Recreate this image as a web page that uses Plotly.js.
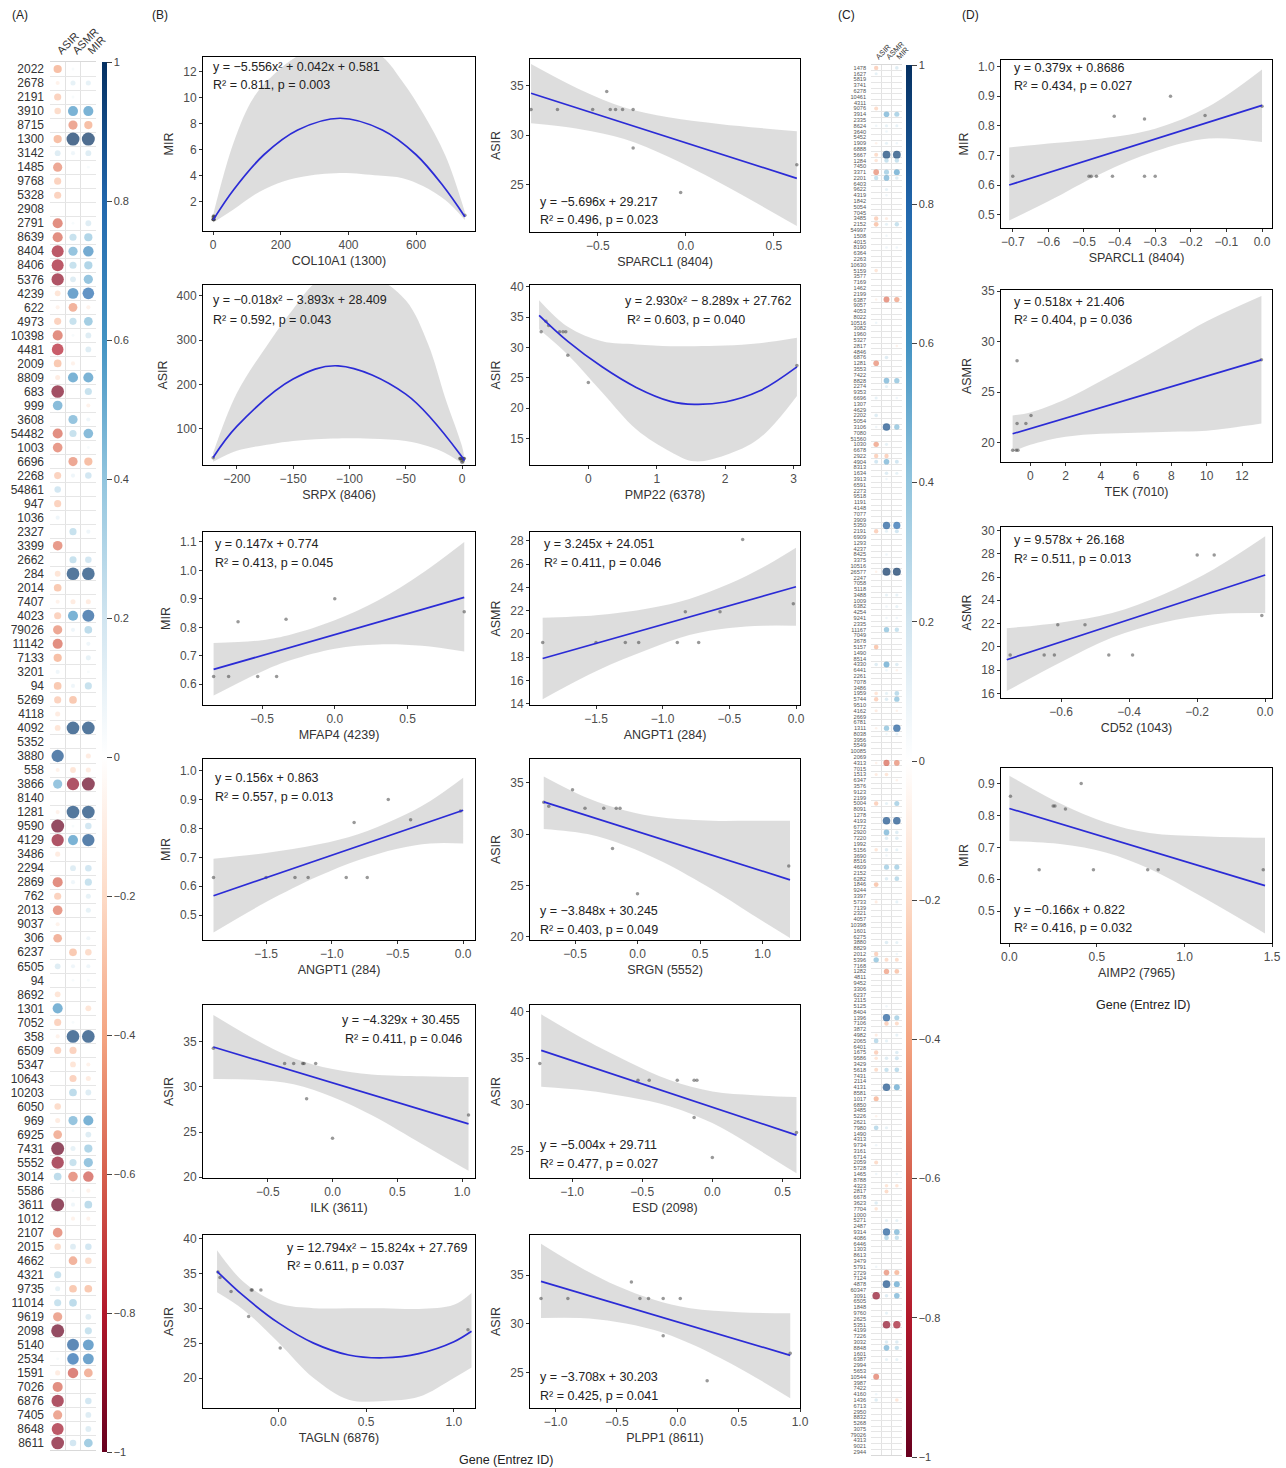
<!DOCTYPE html>
<html><head><meta charset="utf-8">
<script src="https://cdn.plot.ly/plotly-3.0.1.min.js"></script>
<style>body{margin:0;background:#fff}#chart{width:1286px;height:1468px}</style>
</head><body><div id="chart"></div>
<script>
// ================= Panel A: correlation dots =================
const aGenes = ['2022','2678','2191','3910','8715','1300','3142','1485','9768','5328',
 '2908','2791','8639','8404','8406','5376','4239','622','4973','10398',
 '4481','2009','8809','683','999','3608','54482','1003','6696','2268',
 '54861','947','1036','2327','3399','2662','284','2014','7407','4023',
 '79026','11142','7133','3201','94','5269','4118','4092','5352','3880',
 '558','3866','8140','1281','9590','4129','3486','2294','2869','762',
 '2013','9037','306','6237','6505','94','8692','1301','7052','358',
 '6509','5347','10643','10203','6050','969','6925','7431','5552','3014',
 '5586','3611','1012','2107','2015','4662','4321','9735','11014','9619',
 '2098','5140','2534','1591','7026','6876','7405','8648','8611'];
const aASIR = [-0.4,-0.1,-0.3,-0.25,0,-0.4,0.2,-0.5,-0.3,-0.3,
 0,-0.6,-0.6,-0.85,-0.85,-0.9,-0.2,-0.1,-0.3,-0.6,
 -0.8,-0.35,-0.15,-0.95,0.55,0,-0.6,-0.55,0,-0.3,
 0.25,-0.3,0.1,0,-0.55,0,-0.2,-0.35,-0.1,-0.3,
 -0.5,-0.6,-0.4,0.1,-0.35,-0.3,-0.15,-0.2,0,0.9,
 -0.1,0.5,0,-0.1,-1.0,-0.9,-0.15,0,-0.6,-0.3,
 -0.55,-0.1,-0.45,0,0.2,0,-0.2,0.6,-0.3,-0.1,
 -0.3,0,0,0,-0.25,-0.15,-0.45,-1.0,-0.9,0.35,
 0,-1.0,0,-0.55,-0.25,0,0.3,0.15,0.3,-0.5,
 -1.0,0,0.05,-0.15,-0.6,-0.9,-0.5,-0.85,-0.95];
const aASMR = [0.05,0.15,0.05,0.6,-0.5,1.0,0.1,0,0,0,
 0,0.05,0.3,0.5,0.3,0.2,0.7,-0.45,0.3,0.05,
 0,-0.1,0.6,0,0,0.5,0.3,0,-0.5,0.1,
 0,0,0,0.3,0,0.3,0.95,0,-0.15,0.6,
 0.1,0,0,0,0.1,-0.35,0,0.95,0,0,
 -0.2,-0.9,0,0.95,0.05,0.6,0,0.2,0.1,0,
 0,0,0,-0.35,0.1,0.05,0,0,0.05,0.95,
 -0.3,-0.2,-0.3,0.35,0,0.5,0,0.15,0.3,-0.55,
 0.05,0.1,-0.1,0,0.2,-0.45,0,-0.35,0.35,0,
 0,0.85,0.8,-0.65,0,0,0,0,0.25];
const aMIR = [0,0.15,0,0.6,-0.4,1.0,0.2,0.05,0,0,
 0,0.2,0.4,0.65,0.4,0.5,0.8,-0.1,0.45,0.2,
 0.2,0,0.6,0.3,-0.1,0.1,0.55,0.05,-0.4,0.25,
 0,0,0,0.1,0,0.25,0.95,0,-0.15,0.85,
 0.35,0.1,0.15,0.05,0.3,0,0,0.95,0,-0.15,
 -0.15,-1.0,0,0.95,0.25,0.9,0,0.25,0.3,0.15,
 0.15,0,0.1,-0.25,0.1,0.05,0,-0.2,0,0.95,
 0,-0.1,-0.15,0.2,0,0.6,0.2,0.4,0.5,-0.65,
 -0.1,0.35,-0.1,0,0.25,-0.25,0,-0.35,0,0.2,
 0.3,0.7,0.7,-0.45,0,0.25,0.2,0.2,0.45];

// ================= Panel C: correlation dots (240 genes) =================
const cGenes = ['1478','1627','5819','3741','6278','10461','4311','9076','3914','2335','8624','3640','5452','1909','6888','5667','1284','7450','3371','2201',
 '6403','9622','4319','1842','5054','7045','3485','2152','54997','1508','4015','8190','6364','2263','10630','5159','3577','7169','1462','2199',
 '6387','9057','4053','8022','10516','3082','1960','5327','2817','4846','6876','1281','3553','7422','8828','2274','9353','6696','1307','4629',
 '2202','5054','3106','7080','51560','1030','6678','2922','4904','8313','1634','3913','6591','2273','9518','1191','4148','7077','3909','5350',
 '2191','6909','1293','4237','8425','3375','10516','26577','2247','7058','5118','3488','1009','6382','4254','9241','2335','11167','7049','3678',
 '5157','1490','8514','4330','6441','2261','7078','3486','1959','5744','9510','4162','2669','6781','1311','8038','3956','5549','10085','2069',
 '4313','7015','1513','6347','3576','9123','2199','5004','8091','1278','4193','6772','2920','7220','1992','5156','3690','8516','4609','2152',
 '6282','1846','9244','3397','5733','7139','2321','4057','10398','1601','6275','3880','8829','2012','5396','7168','1282','4811','9452','3306',
 '6237','2115','5125','8404','1396','7106','3872','4982','2065','6401','1675','9586','3429','5618','7431','2114','4131','8581','1017','6850',
 '3485','5226','2621','7980','1490','4313','9734','3161','6714','2059','5728','1465','8788','4323','2817','6678','3623','7704','1000','5271',
 '2487','9314','4086','6446','1303','8613','3479','5791','2729','7124','4878','60347','3091','6505','1848','9760','2625','5351','4199','7226',
 '3032','8848','1601','6387','2994','5653','10544','3987','7422','4160','1436','6713','2950','8832','5268','3075','79026','4313','9021','2944'];
// rows of panel C with a visible dot (others ~0)
const cRow = [0,1,7,8,10,11,13,15,16,18, 19,21,22,26,27,29,31,35,40,44,
 48,50,51,54,55,57,60,62,65,67, 68,70,71,79,80,84,87,91,93,95,
 97,100,103,104,108,109,111,114,115,120, 122,123,127,130,132,133,135,136,138,140,
 141,144,151,153,154,156,162,164,165,167, 168,170,171,173,176,178,181,183,186,189,
 191,193,194,196,197,199,201,202,207,208, 210,212,215,217,220,221,223,226,229,230];
const cASIR = [-0.3,0.15,-0.25,0,0.1,0,-0.1,-0.25,-0.2,-0.5, 0.3,0,0,-0.3,-0.35,0,0,-0.2,-0.1,0.1,
 0,0,-0.5,0,0,0.15,0.2,0.1,-0.45,-0.3, 0.25,0,0,0,-0.3,0,-0.1,0,0,0,
 0,-0.35,0.2,0,-0.2,-0.3,-0.15,-0.1,0,-0.1, -0.15,0,-0.3,0,0,0,-0.2,0,0,0,
 -0.35,-0.15,0,-0.3,0.45,0,0,0,0,-0.15, 0.35,-0.3,-0.2,-0.25,0,-0.4,-0.1,0.35,0.1,-0.25,
 0.1,0,0,0.2,-0.2,0,0,0,0.1,0, 0,-0.9,0,0,0,0,0,-0.55,0.1,0.2];
const cASMR = [0,0,0,0.5,0.15,0.1,0.15,0.95,0.3,0.4, 0.5,0.15,0.1,-0.15,0.15,0.1,0.1,0,-0.55,0,
 0,0.2,0,0.5,0.15,0,0,0.9,0.15,-0.3, 0.5,0.2,0.1,0.85,0.15,0.1,1.0,0.15,0.1,0.1,
 0.45,0,0.55,0.1,0.15,0.2,0,0.45,0.1,-0.6, -0.2,0,0.15,0.9,0.5,0.2,0.2,0.1,0.4,0.2,
 0,0,0.2,0,-0.25,-0.45,0.1,0.85,-0.3,0, 0.15,0,0.2,0.3,0.9,0,0,0.15,0,0,
 0,-0.2,-0.25,0,0,0.15,0.85,0.35,0,-0.5, 0.9,0.2,0.15,-0.9,0.2,0.5,0.15,0,0,0];
const cMIR = [0.2,0,0,0.4,0.15,0,0.1,0.95,0.3,0.55, 0.2,0,0,0,0.3,0,0.1,0,-0.45,0,
 -0.1,0,0,0.45,0,0.1,0,0.45,0,0, 0.25,0.15,0,0.8,0.25,0,1.0,0.15,0.15,0.1,
 0.3,0,0.2,-0.1,0.35,0.45,-0.1,0.85,0.15,-0.5, 0,-0.1,0.4,0.9,0.2,0.2,0.15,0,0.4,0.35,
 0,0.15,0.15,0.1,-0.25,-0.35,0,0.4,-0.25,0.15, 0,0.2,0.25,0.35,0.55,0,0,0,0,0,
 0.1,-0.2,0,0,0,0.15,0.5,0.3,0,-0.4, 0.55,0.5,0,-0.85,0.2,0.3,0.15,0,0,-0.2];

// ================= Scatter panels: points, fitted curve, 95% band =================
const b1X=[0,1,2,0,3,1,2,0,4,1,744], b1Y=[0.63,0.63,0.63,0.63,0.63,0.63,0.82,0.83,0.86,0.90,0.95];
const b1FitX=[0,60,150,250,375,500,600,680,744], b1FitY=[0.6,2.9,5.6,7.5,8.4,7.5,5.6,3.2,0.85];
const b1BandX=[0,60,120,190,260,375,490,560,620,687,744];
const b1Up=[1.0,6.5,10.0,12.0,13.3,14.0,13.3,11.2,8.8,5.5,1.2], b1Lo=[0.4,1.4,2.5,3.4,3.9,4.2,4.0,3.8,3.2,2.1,0.6];

const b2X=[-0.88,-0.73,-0.53,-0.45,-0.43,-0.40,-0.36,-0.30,-0.30,-0.03,0.63], b2Y=[32.6,32.6,32.6,34.4,32.6,32.6,32.6,32.6,28.7,24.2,27.0];
const b2FitX=[-0.88,0.63], b2FitY=[34.23,25.63];
const b2BandX=[-0.88,-0.6,-0.35,-0.1,0.2,0.63], b2Up=[37.2,34.6,32.8,31.8,31.1,30.4], b2Lo=[31.2,30.6,29.6,27.8,25.1,20.8];

const b3X=[-221,-2,-1.5,-1,-0.5,0,0.5,1,1.5,2], b3Y=[34.3,32.6,32.6,32.6,28.7,24.2,32.6,27.0,32.6,32.6];
const b3FitX=[-221,-200,-150,-110,-50,0,2], b3FitY=[35,105,212,242,178,36,28];
const b3BandX=[-221,-200,-170,-150,-130,-110,-80,-50,-30,-15,0,2];
const b3Up=[45,180,300,370,430,450,445,390,290,170,60,35], b3Lo=[25,50,65,72,76,78,77,72,60,45,22,20];

const b4X=[-0.69,-0.62,-0.58,-0.42,-0.37,-0.33,-0.30,0.0,3.05], b4Y=[32.6,34.3,33.6,32.6,32.6,32.6,28.7,24.2,27.0];
const b4FitX=[-0.72,-0.3,0.2,0.7,1.2,1.55,2.0,2.5,3.05], b4FitY=[35.3,31.0,26.8,23.4,21.1,20.6,21.0,22.8,26.8];
const b4Up=[37.8,33.4,31.0,30.5,30.2,30.2,30.3,30.7,31.6], b4Lo=[33.0,28.8,22.6,16.5,12.8,11.2,12.2,15.0,22.0];

const b5X=[-0.833,-0.73,-0.665,-0.53,-0.40,-0.335,0.0,0.89], b5Y=[0.627,0.627,0.82,0.627,0.627,0.828,0.90,0.855];
const b5FitX=[-0.833,0.89], b5FitY=[0.652,0.905];
const b5BandX=[-0.833,-0.5,-0.3,0,0.3,0.6,0.89], b5Up=[0.745,0.755,0.775,0.825,0.895,0.99,1.10], b5Lo=[0.56,0.645,0.685,0.725,0.74,0.735,0.715];

const b6X=[-1.90,-1.50,-1.28,-1.18,-0.89,-0.83,-0.73,-0.57,-0.40,-0.02], b6Y=[19.27,19.27,19.27,19.27,19.27,21.9,19.27,21.9,28.1,22.6];
const b6FitX=[-1.9,0], b6FitY=[17.89,24.05];
const b6BandX=[-1.9,-1.5,-1.1,-0.8,-0.5,-0.25,0], b6Up=[21.4,21.6,22.2,23.0,24.3,25.7,27.4], b6Lo=[14.4,16.8,18.7,19.9,20.5,20.7,20.7];

const b7X=[-1.90,-1.50,-1.28,-1.18,-0.89,-0.83,-0.73,-0.57,-0.40,-0.02], b7Y=[0.63,0.63,0.63,0.63,0.63,0.82,0.63,0.90,0.83,0.86];
const b7FitX=[-1.9,0], b7FitY=[0.567,0.863];
const b7BandX=[-1.9,-1.5,-1.1,-0.8,-0.5,-0.25,0], b7Up=[0.695,0.715,0.745,0.78,0.835,0.895,0.975], b7Lo=[0.44,0.545,0.635,0.69,0.73,0.748,0.748];

const b8X=[-0.75,-0.71,-0.52,-0.42,-0.27,-0.17,-0.14,-0.20,0.0,1.21], b8Y=[33.1,32.7,34.3,32.5,32.5,32.5,32.5,28.6,24.2,26.9];
const b8FitX=[-0.75,1.22], b8FitY=[33.13,25.55];
const b8BandX=[-0.75,-0.4,-0.1,0.2,0.6,0.9,1.22], b8Up=[35.6,33.5,32.3,31.6,31.3,31.3,31.3], b8Lo=[30.5,30.0,28.9,27.3,24.6,22.3,19.9];

const b9X=[-0.92,-0.37,-0.30,-0.23,-0.22,-0.13,-0.20,0.0,1.05], b9Y=[34.3,32.6,32.6,32.6,32.6,32.6,28.7,24.3,26.9];
const b9FitX=[-0.92,1.05], b9FitY=[34.44,25.91];
const b9BandX=[-0.92,-0.6,-0.3,0,0.3,0.7,1.05], b9Up=[38.0,35.3,33.2,32.0,31.4,31.2,31.1], b9Lo=[30.9,30.8,30.3,28.9,26.9,23.6,20.7];

const b10X=[-1.23,-0.53,-0.45,-0.25,-0.13,-0.11,-0.13,0.0,0.6], b10Y=[34.4,32.6,32.6,32.6,32.6,32.6,28.6,24.3,27.0];
const b10FitX=[-1.22,0.6], b10FitY=[35.82,26.71];
const b10BandX=[-1.22,-0.9,-0.6,-0.3,0,0.3,0.6], b10Up=[39.7,36.9,34.6,32.6,31.4,31.0,30.8], b10Lo=[31.9,31.5,30.8,29.8,28.0,25.4,22.6];

const b11X=[-0.345,-0.333,-0.27,-0.155,-0.15,-0.10,-0.17,0.01,1.08], b11Y=[35.2,34.4,32.4,32.6,32.6,32.6,28.8,24.3,26.9];
const b11FitX=[-0.35,-0.2,0,0.2,0.4,0.6,0.8,1.0,1.1], b11FitY=[35.3,31.8,27.9,25.0,23.3,22.9,23.5,25.2,26.7];
const b11Up=[38.3,33.8,30.7,30.0,30.0,30.0,29.9,30.5,32.2], b11Lo=[32.3,29.8,25.1,20.0,16.9,16.7,17.3,20.0,21.5];

const b12X=[-1.12,-0.90,-0.38,-0.31,-0.24,-0.12,0.02,-0.12,0.24,0.92], b12Y=[32.6,32.6,34.3,32.6,32.6,32.6,32.6,28.8,24.2,27.0];
const b12FitX=[-1.12,0.92], b12FitY=[34.36,26.79];
const b12BandX=[-1.12,-0.8,-0.5,-0.2,0.1,0.5,0.92], b12Up=[38.2,35.8,33.9,32.5,31.6,31.2,31.1], b12Lo=[30.6,30.6,30.2,29.4,28.0,25.5,22.4];

const d1X=[-0.70,-0.486,-0.48,-0.465,-0.42,-0.415,-0.33,-0.33,-0.30,-0.257,-0.16,0.0], d1Y=[0.63,0.63,0.63,0.63,0.63,0.832,0.63,0.823,0.63,0.90,0.835,0.866];
const d1FitX=[-0.71,0], d1FitY=[0.60,0.869];
const d1BandX=[-0.71,-0.6,-0.45,-0.3,-0.15,0], d1Up=[0.727,0.74,0.757,0.79,0.865,0.99], d1Lo=[0.48,0.545,0.64,0.714,0.757,0.745];

const d2X=[-1.0,-0.8,-0.7,-0.75,-0.25,0.04,-0.75,13.1], d2Y=[19.27,19.27,19.27,21.9,21.9,22.7,28.1,28.2];
const d2FitX=[-1.0,13.1], d2FitY=[20.89,28.19];
const d2BandX=[-1.0,0,2,4,6,8,10,13.1], d2Up=[22.7,23.0,24.3,26.1,28.0,30.0,32.0,34.5], d2Lo=[19.1,19.8,20.6,20.9,21.0,21.1,21.2,21.9];

const d3X=[-0.75,-0.65,-0.62,-0.61,-0.53,-0.46,-0.39,-0.20,-0.15,-0.01], d3Y=[19.3,19.3,19.3,21.9,21.9,19.3,19.3,27.9,27.9,22.7];
const d3FitX=[-0.76,0], d3FitY=[18.89,26.17];
const d3BandX=[-0.76,-0.6,-0.45,-0.3,-0.15,0], d3Up=[21.6,22.1,22.9,24.5,26.7,29.5], d3Lo=[16.2,18.7,20.8,22.1,22.8,22.9];

const d4X=[0.006,0.17,0.25,0.26,0.32,0.41,0.48,0.79,0.85,1.45], d4Y=[0.86,0.63,0.83,0.83,0.82,0.90,0.63,0.63,0.63,0.63];
const d4FitX=[0,1.46], d4FitY=[0.822,0.580];
const d4BandX=[0,0.3,0.55,0.8,1.1,1.46], d4Up=[0.925,0.835,0.778,0.745,0.735,0.73], d4Lo=[0.72,0.71,0.684,0.633,0.545,0.43];

// ================= Layout helpers =================
const W = 1286, H = 1468;
const px = v => v / W, py = v => 1 - v / H;
const FONT = 'Liberation Sans, Arial, sans-serif';
const RDBU = [[0,'#67001F'],[0.1,'#B2182B'],[0.2,'#D6604D'],[0.3,'#F4A582'],[0.4,'#FDDBC7'],
  [0.5,'#FFFFFF'],[0.6,'#D1E5F0'],[0.7,'#92C5DE'],[0.8,'#4393C3'],[0.9,'#2166AC'],[1,'#053061']];

const colL=[203,475], colR=[530,800], colD=[1001,1272];
const panels = [
 {x:b1X,y:b1Y,fx:b1FitX,fy:b1FitY,bx:b1BandX,up:b1Up,lo:b1Lo,xt:'COL10A1 (1300)',yt:'MIR',col:colL,row:[57,231],xr:[-30,774],yr:[-0.25,13.1],xtv:[0,200,400,600],ytv:[2,4,6,8,10,12],xf:'',yf:'',eq:'y = −5.556x² + 0.042x + 0.581',r2:'R² = 0.811, p = 0.003',tp:[211,67,211,85]},
 {x:b2X,y:b2Y,fx:b2FitX,fy:b2FitY,bx:b2BandX,up:b2Up,lo:b2Lo,xt:'SPARCL1 (8404)',yt:'ASIR',col:colR,row:[59,232],xr:[-0.886,0.648],yr:[20.2,37.7],xtv:[-0.5,0,0.5],ytv:[25,30,35],xf:'.1f',yf:'',eq:'y = −5.696x + 29.217',r2:'R² = 0.496, p = 0.023',tp:[538,202,538,220]},
 {x:b3X,y:b3Y,fx:b3FitX,fy:b3FitY,bx:b3BandX,up:b3Up,lo:b3Lo,xt:'SRPX (8406)',yt:'ASIR',col:colL,row:[285,465],xr:[-230,11.5],yr:[17.9,424.6],xtv:[-200,-150,-100,-50,0],ytv:[100,200,300,400],xf:'',yf:'',eq:'y = −0.018x² − 3.893x + 28.409',r2:'R² = 0.592, p = 0.043',tp:[211,300,211,320]},
 {x:b4X,y:b4Y,fx:b4FitX,fy:b4FitY,bx:b4FitX,up:b4Up,lo:b4Lo,xt:'PMP22 (6378)',yt:'ASIR',col:colR,row:[285,465],xr:[-0.853,3.095],yr:[10.6,40.3],xtv:[0,1,2,3],ytv:[15,20,25,30,35,40],xf:'',yf:'',eq:'y = 2.930x² − 8.289x + 27.762',r2:'R² = 0.603, p = 0.040',tp:[623,301,625,320]},
 {x:b5X,y:b5Y,fx:b5FitX,fy:b5FitY,bx:b5BandX,up:b5Up,lo:b5Lo,xt:'MFAP4 (4239)',yt:'MIR',col:colL,row:[532,705],xr:[-0.906,0.964],yr:[0.527,1.135],xtv:[-0.5,0,0.5],ytv:[0.6,0.7,0.8,0.9,1.0,1.1],xf:'.1f',yf:'.1f',eq:'y = 0.147x + 0.774',r2:'R² = 0.413, p = 0.045',tp:[213,544,213,563]},
 {x:b6X,y:b6Y,fx:b6FitX,fy:b6FitY,bx:b6BandX,up:b6Up,lo:b6Lo,xt:'ANGPT1 (284)',yt:'ASMR',col:colR,row:[532,705],xr:[-1.995,0.03],yr:[13.9,28.75],xtv:[-1.5,-1,-0.5,0],ytv:[14,16,18,20,22,24,26,28],xf:'.1f',yf:'',eq:'y = 3.245x + 24.051',r2:'R² = 0.411, p = 0.046',tp:[542,544,542,563]},
 {x:b7X,y:b7Y,fx:b7FitX,fy:b7FitY,bx:b7BandX,up:b7Up,lo:b7Lo,xt:'ANGPT1 (284)',yt:'MIR',col:colL,row:[759,940],xr:[-1.98,0.09],yr:[0.414,1.04],xtv:[-1.5,-1,-0.5,0],ytv:[0.5,0.6,0.7,0.8,0.9,1.0],xf:'.1f',yf:'.1f',eq:'y = 0.156x + 0.863',r2:'R² = 0.557, p = 0.013',tp:[213,778,213,797]},
 {x:b8X,y:b8Y,fx:b8FitX,fy:b8FitY,bx:b8BandX,up:b8Up,lo:b8Lo,xt:'SRGN (5552)',yt:'ASIR',col:colR,row:[759,940],xr:[-0.86,1.3],yr:[19.7,37.3],xtv:[-0.5,0,0.5,1],ytv:[20,25,30,35],xf:'.1f',yf:'',eq:'y = −3.848x + 30.245',r2:'R² = 0.403, p = 0.049',tp:[538,911,538,930]},
 {x:b9X,y:b9Y,fx:b9FitX,fy:b9FitY,bx:b9BandX,up:b9Up,lo:b9Lo,xt:'ILK (3611)',yt:'ASIR',col:colL,row:[1005,1178],xr:[-1.0,1.1],yr:[19.9,39.1],xtv:[-0.5,0,0.5,1],ytv:[20,25,30,35],xf:'.1f',yf:'',eq:'y = −4.329x + 30.455',r2:'R² = 0.411, p = 0.046',tp:[340,1020,343,1039]},
 {x:b10X,y:b10Y,fx:b10FitX,fy:b10FitY,bx:b10BandX,up:b10Up,lo:b10Lo,xt:'ESD (2098)',yt:'ASIR',col:colR,row:[1005,1178],xr:[-1.3,0.625],yr:[22.1,40.7],xtv:[-1,-0.5,0,0.5],ytv:[25,30,35,40],xf:'.1f',yf:'',eq:'y = −5.004x + 29.711',r2:'R² = 0.477, p = 0.027',tp:[538,1145,538,1164]},
 {x:b11X,y:b11Y,fx:b11FitX,fy:b11FitY,bx:b11FitX,up:b11Up,lo:b11Lo,xt:'TAGLN (6876)',yt:'ASIR',col:colL,row:[1235,1408],xr:[-0.43,1.12],yr:[15.7,40.5],xtv:[0,0.5,1],ytv:[20,25,30,35,40],xf:'.1f',yf:'',eq:'y = 12.794x² − 15.824x + 27.769',r2:'R² = 0.611, p = 0.037',tp:[285,1248,285,1266]},
 {x:b12X,y:b12Y,fx:b12FitX,fy:b12FitY,bx:b12BandX,up:b12Up,lo:b12Lo,xt:'PLPP1 (8611)',yt:'ASIR',col:colR,row:[1235,1408],xr:[-1.21,1.0],yr:[21.4,39.1],xtv:[-1,-0.5,0,0.5,1],ytv:[25,30,35],xf:'.1f',yf:'',eq:'y = −3.708x + 30.203',r2:'R² = 0.425, p = 0.041',tp:[538,1377,538,1396]},
 {x:d1X,y:d1Y,fx:d1FitX,fy:d1FitY,bx:d1BandX,up:d1Up,lo:d1Lo,xt:'SPARCL1 (8404)',yt:'MIR',col:colD,row:[60,228],xr:[-0.733,0.028],yr:[0.455,1.022],xtv:[-0.7,-0.6,-0.5,-0.4,-0.3,-0.2,-0.1,0],ytv:[0.5,0.6,0.7,0.8,0.9,1.0],xf:'.1f',yf:'.1f',eq:'y = 0.379x + 0.8686',r2:'R² = 0.434, p = 0.027',tp:[1012,68,1012,86]},
 {x:d2X,y:d2Y,fx:d2FitX,fy:d2FitY,bx:d2BandX,up:d2Up,lo:d2Lo,xt:'TEK (7010)',yt:'ASMR',col:colD,row:[290,462],xr:[-1.66,13.7],yr:[18.1,35.1],xtv:[0,2,4,6,8,10,12],ytv:[20,25,30,35],xf:'',yf:'',eq:'y = 0.518x + 21.406',r2:'R² = 0.404, p = 0.036',tp:[1012,302,1012,320]},
 {x:d3X,y:d3Y,fx:d3FitX,fy:d3FitY,bx:d3BandX,up:d3Up,lo:d3Lo,xt:'CD52 (1043)',yt:'ASMR',col:colD,row:[527,698],xr:[-0.777,0.02],yr:[15.6,30.3],xtv:[-0.6,-0.4,-0.2,0],ytv:[16,18,20,22,24,26,28,30],xf:'.1f',yf:'',eq:'y = 9.578x + 26.168',r2:'R² = 0.511, p = 0.013',tp:[1012,540,1012,559]},
 {x:d4X,y:d4Y,fx:d4FitX,fy:d4FitY,bx:d4BandX,up:d4Up,lo:d4Lo,xt:'AIMP2 (7965)',yt:'MIR',col:colD,row:[768,943],xr:[-0.048,1.5],yr:[0.40,0.949],xtv:[0,0.5,1,1.5],ytv:[0.5,0.6,0.7,0.8,0.9],xf:'.1f',yf:'.1f',eq:'y = −0.166x + 0.822',r2:'R² = 0.416, p = 0.032',tp:[1012,910,1012,928]}
];

const traces = [];
const layout = {
  width: W, height: H, margin: {l:0,r:0,t:0,b:0,pad:0},
  paper_bgcolor:'#fff', plot_bgcolor:'#fff', showlegend:false,
  font:{family:FONT, color:'#333'}, annotations: []
};

function txt(x, y, text, size, anchor, extra) {
  layout.annotations.push(Object.assign({xref:'paper', yref:'paper', x:px(x), y:py(y), text:text,
    showarrow:false, xanchor:anchor||'left', yanchor:'middle',
    font:{family:FONT, size:size||12, color:'#222'}}, extra||{}));
}

panels.forEach((p, i) => {
  const n = i + 1, xa = 'x' + n, ya = 'y' + n;
  const sp = p.fx.length > 2 ? 'spline' : 'linear';
  traces.push({type:'scatter', mode:'lines', x:p.bx, y:p.lo, xaxis:xa, yaxis:ya,
    line:{width:0, shape:'spline'}, hoverinfo:'skip'});
  traces.push({type:'scatter', mode:'lines', x:p.bx, y:p.up, xaxis:xa, yaxis:ya,
    line:{width:0, shape:'spline'}, fill:'tonexty', fillcolor:'rgba(200,200,200,0.62)', hoverinfo:'skip'});
  traces.push({type:'scatter', mode:'markers', x:p.x, y:p.y, xaxis:xa, yaxis:ya,
    marker:{size:3.5, color:'rgba(70,70,70,0.55)'}});
  traces.push({type:'scatter', mode:'lines', x:p.fx, y:p.fy, xaxis:xa, yaxis:ya,
    line:{color:'#2B2BD6', width:1.7, shape:sp}});
  const base = {showline:true, mirror:true, linecolor:'#000', linewidth:1, ticks:'outside',
    ticklen:3, tickwidth:1, tickcolor:'#333', showgrid:false, zeroline:false,
    tickfont:{family:FONT, size:12, color:'#4D4D4D'}, fixedrange:true};
  layout['xaxis' + (n === 1 ? '' : n)] = Object.assign({}, base, {
    domain:[px(p.col[0]), px(p.col[1])], anchor:ya, range:p.xr,
    tickmode:'array', tickvals:p.xtv, tickformat:p.xf,
    title:{text:p.xt, standoff:4, font:{family:FONT, size:12.5, color:'#333'}}});
  layout['yaxis' + (n === 1 ? '' : n)] = Object.assign({}, base, {
    domain:[py(p.row[1]), py(p.row[0])], anchor:xa, range:p.yr,
    tickmode:'array', tickvals:p.ytv, tickformat:p.yf,
    title:{text:p.yt, standoff:6, font:{family:FONT, size:12.5, color:'#333'}}});
  txt(p.tp[0], p.tp[1], p.eq, 12.5);
  txt(p.tp[2], p.tp[3], p.r2, 12.5);
});

// ---------- dot matrix panels ----------
function dotPanel(n, genes, cols, rows, size, x0, x1, y0, y1, labelSize, labelColor, headSize, cbX, cbY0, cbY1, cbThick, standoff) {
  const xa = 'x' + n, ya = 'y' + n;
  const X = [], Y = [], S = [], C = [];
  cols.forEach((vals, ci) => {
    vals.forEach((v, k) => {
      if (v === 0) return;
      X.push(ci); Y.push(rows ? rows[k] : k);
      S.push(size * Math.sqrt(Math.abs(v))); C.push(v);
    });
  });
  traces.push({type:'scatter', mode:'markers', x:X, y:Y, xaxis:xa, yaxis:ya, hoverinfo:'skip',
    marker:{size:S, color:C, cmin:-1, cmax:1, colorscale:RDBU, line:{width:0},
      showscale:true,
      colorbar:{x:px(cbX), xanchor:'left', xpad:0, ypad:0, thickness:cbThick, thicknessmode:'pixels',
        lenmode:'pixels', len:cbY1 - cbY0, y:py((cbY0 + cbY1) / 2), yanchor:'middle',
        outlinewidth:0, ticks:'outside', ticklen:5, tickcolor:'#444',
        tickvals:[1,0.8,0.6,0.4,0.2,0,-0.2,-0.4,-0.6,-0.8,-1],
        tickfont:{family:FONT, size:11, color:'#444'}}}});
  const nRows = genes.length;
  layout['xaxis' + n] = {domain:[px(x0), px(x1)], anchor:ya, range:[-0.5, 2.5], side:'top',
    tickmode:'array', tickvals:[0,1,2], ticktext:['ASIR','ASMR','MIR'], tickangle:-45,
    tickfont:{family:FONT, size:headSize, color:'#333'}, ticks:'', showgrid:false, zeroline:false,
    showline:true, mirror:true, linecolor:'#d9d9d9', linewidth:1, fixedrange:true,
    minor:{tickmode:'linear', tick0:0.5, dtick:1, showgrid:true, gridcolor:'#e2e2e2', gridwidth:1, ticks:''}};
  layout['yaxis' + n] = {domain:[py(y1), py(y0)], anchor:xa, range:[nRows - 0.5, -0.5],
    tickmode:'array', tickvals:genes.map((g, k) => k), ticktext:genes,
    tickfont:{family:FONT, size:labelSize, color:labelColor}, ticks:'', ticklabelstandoff:standoff,
    showgrid:false, zeroline:false, showline:false, fixedrange:true,
    minor:{tickmode:'linear', tick0:0.5, dtick:1, showgrid:true, gridcolor:'#e6e6e6', gridwidth:1, ticks:''}};
}

dotPanel(17, aGenes, [aASIR, aASMR, aMIR], null, 13, 50, 96, 62, 1450, 12, '#333', 11, 102, 62, 1452, 5, 5);
dotPanel(18, cGenes, [cASIR, cASMR, cMIR], cRow, 8, 871, 902, 65, 1455, 5.6, '#555', 7.5, 906, 65, 1457, 6, 4);

// ---------- panel labels & shared titles ----------
txt(10, 15, '(A)', 12);
txt(150, 15, '(B)', 12);
txt(836, 15, '(C)', 12);
txt(960, 15, '(D)', 12);
txt(506, 1460, 'Gene (Entrez ID)', 12.5, 'center');
txt(1143, 1005, 'Gene (Entrez ID)', 12.5, 'center');

Plotly.newPlot('chart', traces, layout, {staticPlot:true, displayModeBar:false});
</script>
</body></html>
